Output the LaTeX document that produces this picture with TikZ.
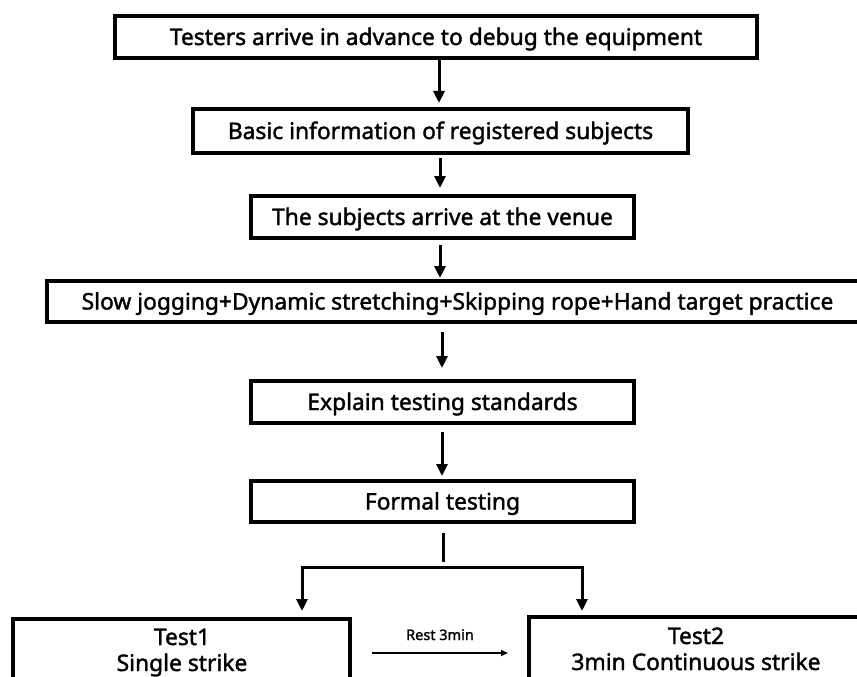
\documentclass[tikz,border=0pt]{standalone}
\usepackage{fontspec}
\setmainfont{Noto Sans}[BoldFont=Noto Sans, BoldFeatures={FakeBold=1.6}]
\usetikzlibrary{arrows.meta}
\tikzset{
  box/.style={draw=black, line width=3.6pt, fill=white, inner sep=0pt, text height=16pt, text depth=0pt, font=\fontsize{22.8}{26}\selectfont\bfseries},
  conn/.style={draw=black, line width=3pt, line join=miter, -{Triangle[length=12pt,width=11pt]}},
  plain/.style={draw=black, line width=3pt},
  thin/.style={draw=black, line width=1.5pt, -{Triangle[length=7pt,width=6pt]}},
  txt/.style={inner sep=0pt, align=center, font=\fontsize{22.8}{28}\selectfont\bfseries},
  small/.style={inner sep=0pt, font=\fontsize{14.5}{17}\selectfont\bfseries}
}
\begin{document}
\begin{tikzpicture}[x=1pt,y=-1pt]
\clip (0,0) rectangle (857,677);
\fill[white] (0,0) rectangle (857,677);
% boxes
\node[box, minimum width=642, minimum height=42] (b1) at (436,37) {Testers arrive in advance to debug the equipment};
\node[box, minimum width=495, minimum height=44] (b2) at (440.5,131) {Basic information of registered subjects};
\node[box, minimum width=383, minimum height=42] (b3) at (442.5,217) {The subjects arrive at the venue};
\node[box, minimum width=821, minimum height=41] (b4) at (457.5,301.5) {Slow jogging+Dynamic stretching+Skipping rope+Hand target practice};
\node[box, minimum width=383, minimum height=42] (b5) at (442.5,402) {Explain testing standards};
\node[box, minimum width=383, minimum height=41] (b6) at (442.5,501.5) {Formal testing};
\node[box, minimum width=337, minimum height=82] (b7) at (181.5,660) {};
\node[box, minimum width=334, minimum height=84] (b8) at (696,659) {};
\node[txt, anchor=base] (t1) at (182,645) {Test1};
\node[txt, anchor=base] (t1b) at (182,671) {Single strike};
\node[txt, anchor=base] (t2) at (696,644) {Test2};
\node[txt, anchor=base] (t2b) at (696,670) {3min Continuous strike};
% coordinates
\coordinate (a1s) at (439,58);  \coordinate (a1e) at (439,103);
\coordinate (a2s) at (440,158); \coordinate (a2e) at (440,188);
\coordinate (a3s) at (440,245); \coordinate (a3e) at (440,278);
\coordinate (a4s) at (442,332); \coordinate (a4e) at (442,368);
\coordinate (a5s) at (442,432); \coordinate (a5e) at (442,476);
\coordinate (vs) at (443,533);  \coordinate (ve) at (443,562);
\coordinate (hl) at (302,567);  \coordinate (hr) at (582,567);
\coordinate (tl) at (302,611);  \coordinate (tr) at (582,611);
\coordinate (rs) at (372,653);  \coordinate (re) at (508,653);
% connectors
\draw[conn] (a1s) -- (a1e);
\draw[conn] (a2s) -- (a2e);
\draw[conn] (a3s) -- (a3e);
\draw[conn] (a4s) -- (a4e);
\draw[conn] (a5s) -- (a5e);
\draw[plain] (vs) -- (ve);
\draw[conn] (hr) -- (hl) -- (tl);
\draw[conn] (hl) -- (hr) -- (tr);
\draw[thin] (rs) -- (re);
\node[small, anchor=base] (rest) at (440,640) {Rest 3min};
\end{tikzpicture}
\end{document}
